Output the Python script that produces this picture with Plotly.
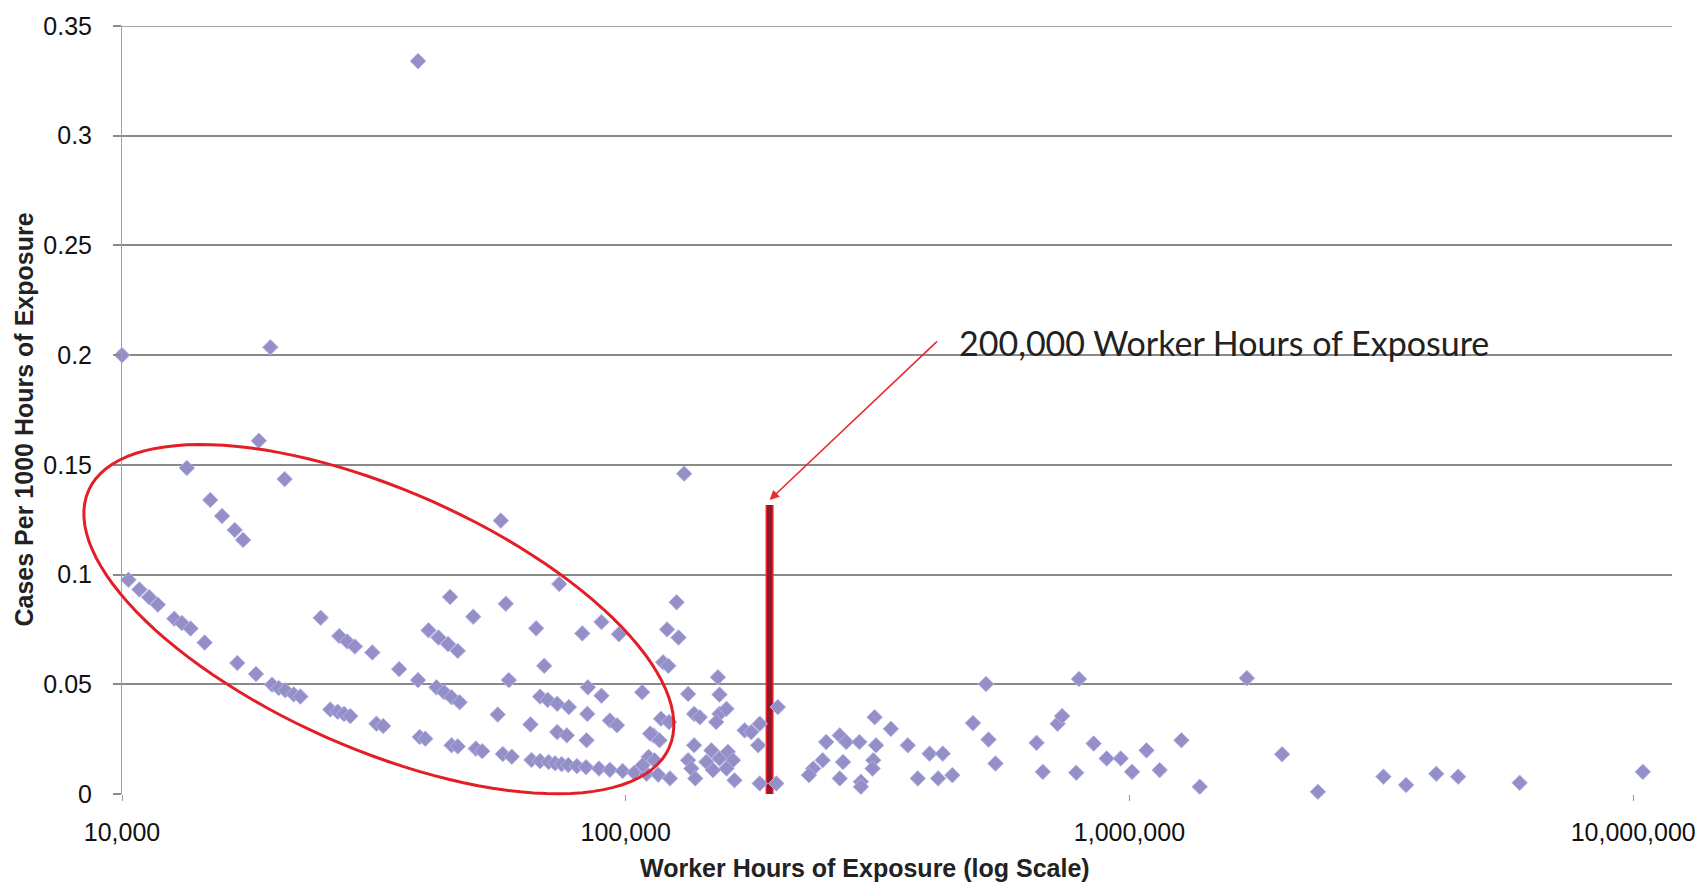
import numpy as np
import plotly.graph_objects as go

# ---- data ----
hours = [
    10000, 10300, 10830, 11320, 11780, 12700, 13150, 13680, 13450, 14590,
    14970, 15800, 16740, 17390, 16940, 18450, 18690, 19700, 19860, 20470,
    21090, 21930, 21030, 22600, 24800, 25900, 26800, 27600, 28400, 27000,
    28000, 29000, 31400, 32000, 33000, 35500, 38700, 38700, 39000, 40000,
    40600, 42500, 44400, 46400, 42100, 43600, 45100, 46800, 44800, 45100,
    46400, 49800, 50400, 51900, 55700, 56500, 57800, 57000, 59400, 58600,
    64700, 65000, 67600, 66400, 67600, 70000, 73100, 77100, 68900, 70300,
    72400, 74600, 76900, 80000, 83400, 73800, 73100, 76400, 82000, 83600,
    83900, 84100, 89500, 88500, 89500, 93000, 96100, 93000, 96900, 98600,
    104000, 107800, 110000, 111000, 114000, 113500, 116700, 116000, 117500, 121900,
    118600, 121500, 120800, 127300, 126200, 130600, 122400, 133000, 136700, 140300,
    136700, 133000, 135000, 137400, 152400, 153500, 153500, 158500, 151200, 147900,
    153500, 159500, 163300, 144500, 149000, 158500, 164400, 172200, 177500, 184500,
    183200, 184500, 200400, 199000, 111800, 108000,
    235600, 231000, 246000, 250000, 266000, 274000, 270000, 266000, 291000, 312000,
    336000, 314000, 310000, 293000, 293000, 309000, 363000, 401000, 426000, 380000,
    417000, 445000, 489000, 519000, 525000, 542000, 654000, 673000, 720000, 735000,
    784000, 794000, 849000, 901000, 961000, 1012000, 1081000, 1148000, 1268000, 1379000,
    1710000, 2009000, 2366000, 3193000, 3540000, 4065000, 4493000, 5950000, 10450000,
]
rates = [
    0.2000, 0.0976, 0.0932, 0.0897, 0.0863, 0.0799, 0.0779, 0.0754, 0.1486, 0.0690,
    0.1340, 0.1267, 0.1203, 0.1158, 0.0597, 0.0547, 0.1610, 0.2036, 0.0498, 0.0483,
    0.0473, 0.0454, 0.1435, 0.0444, 0.0803, 0.0385, 0.0375, 0.0365, 0.0355, 0.0720,
    0.0695, 0.0672, 0.0645, 0.0320, 0.0310, 0.0569, 0.0519, 0.3340, 0.0260, 0.0252,
    0.0746, 0.0713, 0.0683, 0.0652, 0.0486, 0.0464, 0.0441, 0.0418, 0.0898, 0.0222,
    0.0217, 0.0808, 0.0207, 0.0195, 0.0362, 0.1246, 0.0867, 0.0182, 0.0170, 0.0519,
    0.0317, 0.0155, 0.0150, 0.0755, 0.0444, 0.0429, 0.0411, 0.0396, 0.0584, 0.0146,
    0.0140, 0.0136, 0.0132, 0.0127, 0.0122, 0.0957, 0.0282, 0.0267, 0.0732, 0.0245,
    0.0365, 0.0486, 0.0448, 0.0116, 0.0784, 0.0335, 0.0313, 0.0110, 0.0728, 0.0105,
    0.0097, 0.0464, 0.0092, 0.0169, 0.0154, 0.0267, 0.0245, 0.0088, 0.0343, 0.0328,
    0.0600, 0.0584, 0.0750, 0.0713, 0.0874, 0.1460, 0.0071, 0.0456, 0.0365, 0.0350,
    0.0222, 0.0154, 0.0116, 0.0071, 0.0532, 0.0453, 0.0365, 0.0388, 0.0328, 0.0199,
    0.0162, 0.0192, 0.0154, 0.0146, 0.0109, 0.0116, 0.0063, 0.0290, 0.0282, 0.0320,
    0.0222, 0.0048, 0.0396, 0.0048, 0.0275, 0.0131,
    0.0116, 0.0086, 0.0154, 0.0237, 0.0267, 0.0237, 0.0146, 0.0071, 0.0237, 0.0350,
    0.0297, 0.0222, 0.0154, 0.0056, 0.0033, 0.0116, 0.0222, 0.0184, 0.0184, 0.0071,
    0.0071, 0.0086, 0.0323, 0.0501, 0.0248, 0.0139, 0.0233, 0.0101, 0.0320, 0.0355,
    0.0097, 0.0524, 0.0230, 0.0162, 0.0162, 0.0101, 0.0199, 0.0109, 0.0245, 0.0033,
    0.0528, 0.0181, 0.0010, 0.0079, 0.0041, 0.0092, 0.0079, 0.0051, 0.0101,
]

x_tick_vals = [10000, 100000, 1000000, 10000000]
x_tick_text = ["10,000", "100,000", "1,000,000", "10,000,000"]
y_tick_vals = [0, 0.05, 0.1, 0.15, 0.2, 0.25, 0.3, 0.35]
y_tick_text = ["0", "0.05", "0.1", "0.15", "0.2", "0.25", "0.3", "0.35"]
y_max = 0.35

marker_hours = 193000          # hand-drawn bar position
marker_top = 0.1317            # top of the bar
annotation_text = "200,000 Worker Hours of Exposure"

# ---- layout geometry (pixels) ----
W, H = 1708, 885
ML, MR, MT, MB = 122, 35, 21, 91
PW, PH = W - ML - MR, H - MT - MB

def px2paper(px, py):
    return (px - ML) / PW, (H - MB - py) / PH

fig = go.Figure()

# red bar (outline + dark fill)
fig.add_trace(go.Scatter(x=[marker_hours, marker_hours], y=[0, marker_top], mode="lines",
                         line=dict(color="#e3242b", width=8), hoverinfo="skip", showlegend=False))
fig.add_trace(go.Scatter(x=[marker_hours, marker_hours], y=[0, marker_top], mode="lines",
                         line=dict(color="#8e1a2c", width=5), hoverinfo="skip", showlegend=False))

fig.add_trace(go.Scatter(
    x=hours, y=rates, mode="markers",
    marker=dict(symbol="diamond", size=12, color="rgb(146,144,198)",
                line=dict(color="rgba(190,176,236,0.9)", width=1)),
    cliponaxis=False, showlegend=False))

# top gridline at 0.35
fig.add_shape(type="line", xref="paper", yref="y", x0=0, x1=1, y0=y_max, y1=y_max,
              line=dict(color="#8a8a8a", width=1.6), layer="below")

# ellipse annotation (hand drawn in the original)
cx, cy, a, b, th = 379, 618, 318, 130, np.radians(24.05)
t = np.linspace(0, 2 * np.pi, 121)
ex = cx + a * np.cos(th) * np.cos(t) - b * np.sin(th) * np.sin(t)
ey = cy + a * np.sin(th) * np.cos(t) + b * np.cos(th) * np.sin(t)
pts = [px2paper(u, v) for u, v in zip(ex, ey)]
path = "M " + " L ".join(f"{u:.5f},{v:.5f}" for u, v in pts) + " Z"
fig.add_shape(type="path", path=path, xref="paper", yref="paper",
              line=dict(color="#e41e26", width=3), layer="above")

# arrow
fig.add_annotation(x=np.log10(marker_hours), y=0.134, xref="x", yref="y", text="",
                   showarrow=True, arrowhead=2, arrowsize=1.2, arrowwidth=1.6,
                   arrowcolor="#ea2a33", ax=169, ay=-160)
# annotation text
tx, ty = px2paper(958, 340)
fig.add_annotation(x=tx, y=ty, xref="paper", yref="paper", text=annotation_text,
                   showarrow=False, xanchor="left", yanchor="middle",
                   font=dict(family="Lato", size=34, color="#222222"))

# axis titles
tx, ty = px2paper(865, 868)
fig.add_annotation(x=tx, y=ty, xref="paper", yref="paper",
                   text="<b>Worker Hours of Exposure (log Scale)</b>", showarrow=False,
                   xanchor="center", yanchor="middle",
                   font=dict(family="Liberation Sans", size=25, color="#222222"))
tx, ty = px2paper(24, 417)
fig.add_annotation(x=tx, y=ty, xref="paper", yref="paper",
                   text="<b>Cases Per 1000 Hours of Exposure</b>", showarrow=False,
                   textangle=-90, xanchor="center", yanchor="middle",
                   font=dict(family="Liberation Sans", size=25, color="#222222"))

fig.update_xaxes(type="log", range=[4, 7.077], tickvals=x_tick_vals, ticktext=x_tick_text,
                 showgrid=False, zeroline=False, showline=False,
                 ticks="outside", ticklen=6, tickcolor="#999999", tickwidth=1,
                 ticklabelstandoff=10,
                 tickfont=dict(family="Liberation Sans", size=25, color="#111111"))
fig.update_yaxes(range=[0, y_max], tickvals=y_tick_vals, ticktext=y_tick_text,
                 showgrid=True, gridcolor="#8a8a8a", gridwidth=1.6, zeroline=False,
                 showline=True, linecolor="#a0a0a0", linewidth=1,
                 ticks="outside", ticklen=8, tickcolor="#8a8a8a", tickwidth=1.5,
                 ticklabelstandoff=16,
                 tickfont=dict(family="Liberation Sans", size=25, color="#111111"))

fig.update_layout(width=W, height=H, margin=dict(l=ML, r=MR, t=MT, b=MB),
                  plot_bgcolor="white", paper_bgcolor="white", showlegend=False)

fig.write_html("out.html", config={"displayModeBar": False},
               post_script="document.body.style.margin='0';document.body.style.overflow='hidden';")
